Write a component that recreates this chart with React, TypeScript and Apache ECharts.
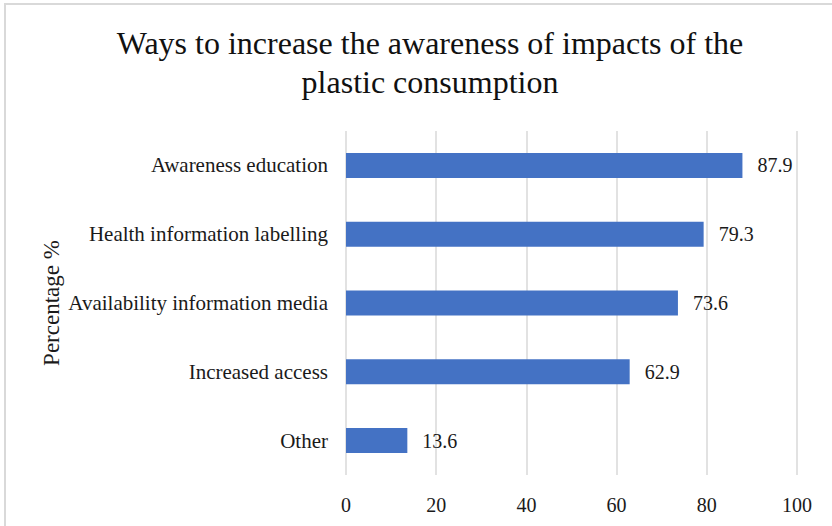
import React, { useEffect, useRef } from "react";
import * as echarts from "echarts";

const categories = [
  "Awareness education",
  "Health information labelling",
  "Availability information media",
  "Increased access",
  "Other",
];
const values = [87.9, 79.3, 73.6, 62.9, 13.6];
const titleLines = [
  "Ways to increase the awareness of impacts of the",
  "plastic consumption",
];
const axisName = "Percentage %";

const FONT = "Liberation Serif";

export default function App() {
  const ref = useRef<HTMLDivElement>(null);

  useEffect(() => {
    if (!ref.current) return;
    const chart = echarts.init(ref.current, undefined, { renderer: "svg" });
    chart.setOption({
      animation: false,
      backgroundColor: "#ffffff",
      textStyle: { fontFamily: FONT },
      title: {
        text: titleLines.join("\n"),
        left: 425,
        top: 18,
        textAlign: "center",
        textStyle: {
          fontFamily: FONT,
          fontSize: 32,
          fontWeight: "normal",
          color: "#111111",
          lineHeight: 39,
        },
      },
      graphic: [
        {
          type: "rect",
          shape: { x: 5, y: 4, width: 900, height: 600 },
          style: { fill: "none", stroke: "#d9d9d9", lineWidth: 2 },
          silent: true,
        },
        {
          type: "text",
          x: 51,
          y: 303,
          rotation: Math.PI / 2,
          style: {
            text: axisName,
            fontFamily: FONT,
            fontSize: 23,
            fill: "#1a1a1a",
            align: "center",
            verticalAlign: "middle",
          },
          silent: true,
        },
      ],
      grid: { left: 346, right: 35, top: 131, bottom: 51, containLabel: false },
      xAxis: {
        type: "value",
        min: 0,
        max: 100,
        interval: 20,
        axisLine: { show: false },
        axisTick: { show: false },
        splitLine: { show: true, lineStyle: { color: "#d9d9d9", width: 1.5 } },
        axisLabel: {
          fontFamily: FONT,
          fontSize: 20,
          color: "#1a1a1a",
          margin: 20,
        },
      },
      yAxis: {
        type: "category",
        data: categories,
        inverse: true,
        axisLine: { show: false },
        axisTick: { show: false },
        axisLabel: {
          fontFamily: FONT,
          fontSize: 21,
          color: "#1a1a1a",
          margin: 18,
        },
      },
      series: [
        {
          type: "bar",
          data: values,
          barWidth: 25,
          itemStyle: { color: "#4472c4" },
          label: {
            show: true,
            position: "right",
            distance: 15,
            fontFamily: FONT,
            fontSize: 20,
            color: "#1a1a1a",
            formatter: (p: any) => p.value.toFixed(1),
          },
        },
      ],
    });
    return () => chart.dispose();
  }, []);

  return (
    <div
      ref={ref}
      style={{ position: "fixed", left: 0, top: 0, width: 832, height: 526 }}
    />
  );
}
